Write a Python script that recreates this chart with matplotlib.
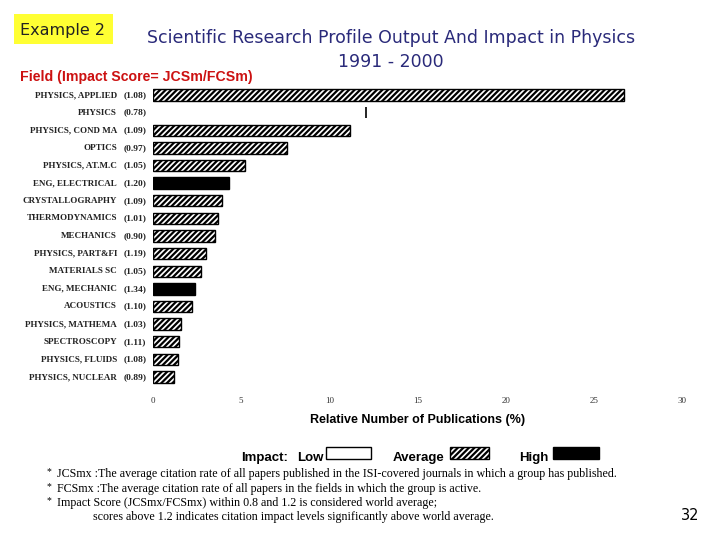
import matplotlib
matplotlib.use("Agg")
import matplotlib.pyplot as plt
from matplotlib.patches import Rectangle
import matplotlib.transforms as mtransforms

fields = ["PHYSICS, APPLIED", "PHYSICS", "PHYSICS, COND MA", "OPTICS", "PHYSICS, AT.M.C",
          "ENG, ELECTRICAL", "CRYSTALLOGRAPHY", "THERMODYNAMICS", "MECHANICS", "PHYSICS, PART&FI",
          "MATERIALS SC", "ENG, MECHANIC", "ACOUSTICS", "PHYSICS, MATHEMA", "SPECTROSCOPY",
          "PHYSICS, FLUIDS", "PHYSICS, NUCLEAR"]
scores = ["1.08", "0.78", "1.09", "0.97", "1.05", "1.20", "1.09", "1.01", "0.90", "1.19",
          "1.05", "1.34", "1.10", "1.03", "1.11", "1.08", "0.89"]
impact = ["avg", "low", "avg", "avg", "avg", "high", "avg", "avg", "avg", "avg",
          "avg", "high", "avg", "avg", "avg", "avg", "avg"]
share = [26.7, 12.1, 11.2, 7.6, 5.2, 4.3, 3.9, 3.7, 3.5, 3.0, 2.7, 2.4, 2.2, 1.6, 1.5, 1.4, 1.2]
xticks = [0, 5, 10, 15, 20, 25, 30]

plt.rcParams['hatch.linewidth'] = 1.6
HATCH = "//////"

fig = plt.figure(figsize=(7.2, 5.4), dpi=100)
fig.patch.set_facecolor("white")

n = len(fields)
# axes: x 153..682 px, rows 95..377 px
step = (377 - 95) / (n - 1)
top_px = 95 - step / 2
bot_px = 377 + step / 2
ax = fig.add_axes([153/720, 1-bot_px/540, (682-153)/720, (bot_px-top_px)/540])
for i, (v, imp) in enumerate(zip(share, impact)):
    if imp == "avg":
        ax.barh(i, v, height=0.64, color="white", edgecolor="black", hatch=HATCH, linewidth=1.0)
    elif imp == "high":
        ax.barh(i, v, height=0.64, color="black", edgecolor="black", linewidth=1.0)
    else:
        ax.barh(i, v, height=0.64, color="white", edgecolor="white", linewidth=0)
        ax.vlines(v, i - 0.32, i + 0.32, color="black", linewidth=1.2)

ax.set_xlim(0, 30)
ax.set_ylim(n - 0.5, -0.5)
for s in ax.spines.values():
    s.set_visible(False)
ax.set_yticks([])
ax.set_xticks(xticks)
ax.set_xticklabels([str(t) for t in xticks], fontfamily="Liberation Serif", fontsize=6.5, color="#333333")
ax.tick_params(axis="x", length=0, pad=8)

trans = mtransforms.blended_transform_factory(fig.transFigure, ax.transData)
for i, (f, sc) in enumerate(zip(fields, scores)):
    ax.text(117/720, i, f, transform=trans, ha="right", va="center",
            fontfamily="Liberation Serif", fontweight="bold", fontsize=6.5, color="#222222")
    ax.text(135/720, i, "(" + sc + ")", transform=trans, ha="center", va="center",
            fontfamily="Liberation Serif", fontweight="bold", fontsize=6.8, color="#222222")

fig.text(418/720, 1-420/540, "Relative Number of Publications (%)", ha="center", va="center",
         fontfamily="Liberation Sans", fontweight="bold", fontsize=9)

# Example box
fig.patches.append(Rectangle((14/720, 1-44/540), 99/720, 30/540, transform=fig.transFigure,
                             facecolor="#FFFF33", edgecolor="none"))
fig.text(63/720, 1-30/540, "Example 2", ha="center", va="center", fontfamily="DejaVu Sans",
         fontsize=11.5, color="#222222")

# Title
fig.text(391/720, 1-38/540, "Scientific Research Profile Output And Impact in Physics",
         ha="center", va="center", fontfamily="DejaVu Sans", fontsize=12.5, color="#2A2A7A")
fig.text(391/720, 1-62/540, "1991 - 2000", ha="center", va="center",
         fontfamily="DejaVu Sans", fontsize=12.5, color="#2A2A7A")

fig.text(20/720, 1-77/540, "Field (Impact Score= JCSm/FCSm)", ha="left", va="center",
         fontfamily="Liberation Sans", fontweight="bold", fontsize=10.2, color="#CC1111")

# Legend
ly = 1-458/540
fs = 9.5
fig.text(241/720, ly, "Impact:", ha="left", va="center", fontfamily="Liberation Sans", fontsize=fs, fontweight="semibold")
fig.text(324/720, ly, "Low", ha="right", va="center", fontfamily="Liberation Sans", fontsize=fs, fontweight="semibold")
fig.text(444/720, ly, "Average", ha="right", va="center", fontfamily="Liberation Sans", fontsize=fs, fontweight="semibold")
fig.text(549/720, ly, "High", ha="right", va="center", fontfamily="Liberation Sans", fontsize=fs, fontweight="semibold")
fig.patches.append(Rectangle((326/720, 1-459/540), 45/720, 12/540, transform=fig.transFigure,
                             facecolor="white", edgecolor="black", linewidth=1.0))
fig.patches.append(Rectangle((450/720, 1-459/540), 39/720, 12/540, transform=fig.transFigure,
                             facecolor="white", edgecolor="black", hatch=HATCH, linewidth=1.0))
fig.patches.append(Rectangle((553/720, 1-459/540), 46/720, 12/540, transform=fig.transFigure,
                             facecolor="black", edgecolor="black", linewidth=1.0))

notes = [
    (474, 57, True, "JCSmx :The average citation rate of all papers published in the ISI-covered journals in which a group has published."),
    (489, 57, True, "FCSmx :The average citation rate of all papers in the fields in which the group is active."),
    (503, 57, True, "Impact Score (JCSmx/FCSmx) within 0.8 and 1.2 is considered world average;"),
    (517, 93, False, "scores above 1.2 indicates citation impact levels significantly above world average."),
]
for y, x, star, txt in notes:
    if star:
        fig.text(47/720, 1-(y-2)/540, "*", ha="left", va="center", fontfamily="Liberation Serif", fontsize=7)
    fig.text(x/720, 1-y/540, txt, ha="left", va="center", fontfamily="Liberation Serif", fontsize=8.65)

fig.text(690/720, 1-516/540, "32", ha="center", va="center", fontfamily="DejaVu Sans", fontsize=10.5)

fig.savefig("out.png", dpi=100)
